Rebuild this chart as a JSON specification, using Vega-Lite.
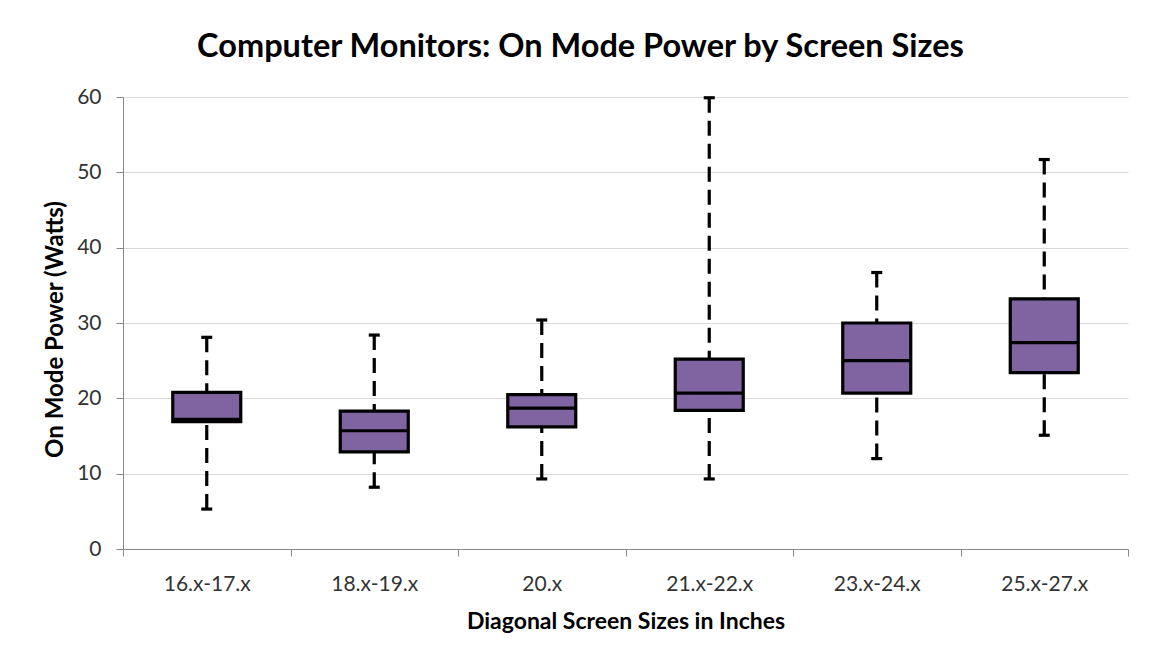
{
  "$schema": "https://vega.github.io/schema/vega-lite/v6.json",
  "autosize": {"type": "none"},
  "padding": {"left": 123, "top": 97, "right": 23, "bottom": 115},
  "width": 1005,
  "height": 452,
  "background": "white",
  "title": {
    "text": "Computer Monitors: On Mode Power by Screen Sizes",
    "font": "Lato",
    "fontSize": 32.5,
    "fontWeight": "bold",
    "color": "#000000",
    "anchor": "middle",
    "dx": -45,
    "offset": 23
  },
  "data": {
    "values": [
      {"size": "16.x-17.x", "min": 5.3, "q1": 16.9, "median": 17.2, "q3": 20.8, "max": 28.1},
      {"size": "18.x-19.x", "min": 8.2, "q1": 12.9, "median": 15.7, "q3": 18.3, "max": 28.4},
      {"size": "20.x", "min": 9.3, "q1": 16.2, "median": 18.7, "q3": 20.5, "max": 30.4},
      {"size": "21.x-22.x", "min": 9.3, "q1": 18.4, "median": 20.7, "q3": 25.2, "max": 59.9},
      {"size": "23.x-24.x", "min": 12.0, "q1": 20.7, "median": 25.0, "q3": 30.0, "max": 36.7},
      {"size": "25.x-27.x", "min": 15.1, "q1": 23.4, "median": 27.4, "q3": 33.2, "max": 51.7}
    ]
  },
  "encoding": {
    "x": {
      "field": "size",
      "type": "nominal",
      "sort": null,
      "title": "Diagonal Screen Sizes in Inches",
      "scale": {"paddingInner": 0, "paddingOuter": 0},
      "axis": {
        "labelAngle": 0,
        "labelFont": "Lato",
        "labelFontSize": 21,
        "labelColor": "#333333",
        "labelPadding": 17,
        "tickBand": "extent",
        "tickSize": 7,
        "tickColor": "#888888",
        "domainColor": "#888888",
        "titleFont": "Lato",
        "titleFontSize": 23,
        "titleFontWeight": "bold",
        "titleColor": "#000000",
        "titlePadding": 16,
        "grid": false
      }
    }
  },
  "layer": [
    {
      "mark": {"type": "rule", "strokeDash": [15, 8], "strokeWidth": 3.2, "color": "#000000"},
      "encoding": {
        "y": {
          "field": "min",
          "type": "quantitative",
          "scale": {"domain": [0, 60]},
          "title": "On Mode Power (Watts)",
          "axis": {
            "values": [0, 10, 20, 30, 40, 50, 60],
            "labelFont": "Lato",
            "labelFontSize": 21,
            "labelColor": "#333333",
            "labelPadding": 15,
            "tickSize": 7,
            "tickColor": "#888888",
            "domainColor": "#888888",
            "gridColor": "#D9D9D9",
            "gridWidth": 1,
            "titleFont": "Lato",
            "titleFontSize": 24,
            "titleFontWeight": "bold",
            "titleColor": "#000000",
            "titlePadding": 9,
            "titleY": 232
          }
        },
        "y2": {"field": "q1"}
      }
    },
    {
      "mark": {"type": "rule", "strokeDash": [15, 8], "strokeWidth": 3.2, "color": "#000000"},
      "encoding": {
        "y": {"field": "max", "type": "quantitative"},
        "y2": {"field": "q3"}
      }
    },
    {
      "mark": {"type": "bar", "width": 68, "fill": "#8064A2", "stroke": "#000000", "strokeWidth": 3.2},
      "encoding": {
        "y": {"field": "q1", "type": "quantitative"},
        "y2": {"field": "q3"}
      }
    },
    {
      "mark": {"type": "tick", "size": 68, "thickness": 3.2, "color": "#000000", "opacity": 1},
      "encoding": {
        "y": {"field": "median", "type": "quantitative"}
      }
    },
    {
      "mark": {"type": "tick", "size": 11, "thickness": 3.2, "color": "#000000", "opacity": 1},
      "encoding": {
        "y": {"field": "min", "type": "quantitative"}
      }
    },
    {
      "mark": {"type": "tick", "size": 11, "thickness": 3.2, "color": "#000000", "opacity": 1},
      "encoding": {
        "y": {"field": "max", "type": "quantitative"}
      }
    }
  ],
  "config": {
    "view": {"stroke": null},
    "axis": {"domainWidth": 1, "tickWidth": 1}
  }
}
